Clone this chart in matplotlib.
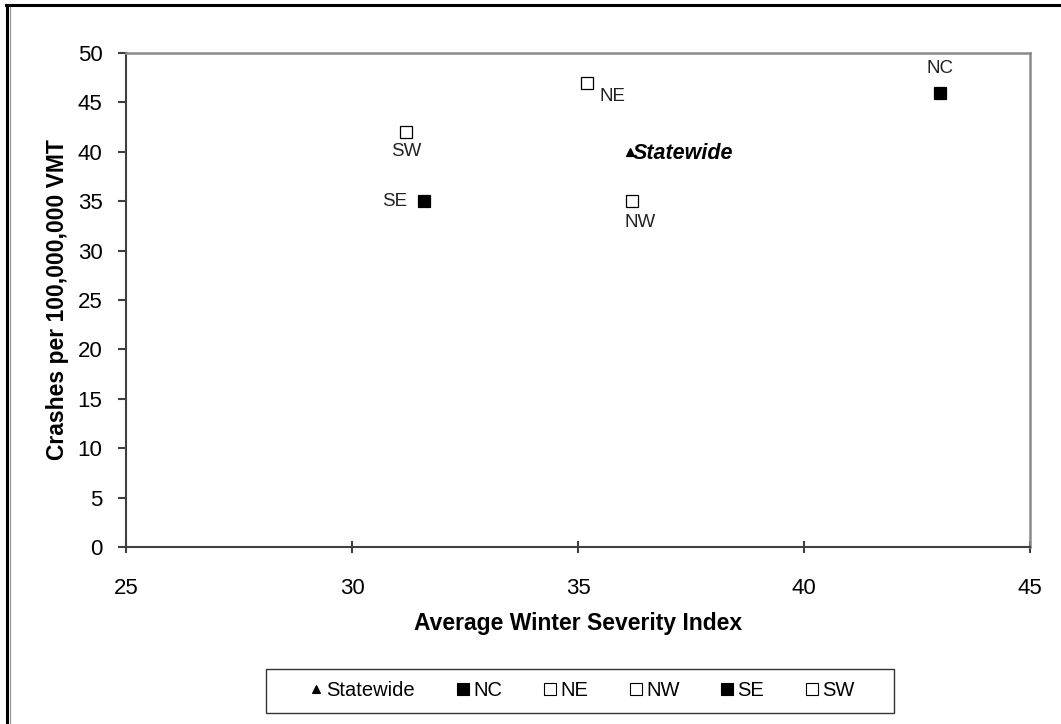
import matplotlib.pyplot as plt
from matplotlib.lines import Line2D
from matplotlib.patches import Rectangle

plt.rcParams['font.family'] = ['Liberation Sans', 'DejaVu Sans']

# region values
regions = ['Statewide', 'NC', 'NE', 'NW', 'SE', 'SW']
severity = [36.15, 43.0, 35.2, 36.2, 31.6, 31.2]
crashes = [40.0, 46.0, 47.0, 35.0, 35.0, 42.0]
markers = ['^', 's', 's', 's', 's', 's']
filled = [True, True, False, False, True, False]

W, H = 1061, 724
fig = plt.figure(figsize=(W / 100, H / 100), dpi=100)
ax = fig.add_axes([126 / W, 1 - 547 / H, (1030 - 126) / W, (547 - 53) / H])

for r, x, y, m, f in zip(regions, severity, crashes, markers, filled):
    ms = 6 if m == '^' else 9
    ax.plot(x, y, marker=m, ms=ms, color='black', mfc='black' if f else 'white',
            mec='black', mew=0.9, linestyle='none', clip_on=False)

# point labels
lab_style = dict(fontsize=13.5, color='#222222')
offsets = {'NC': (0, 11, 'center', 'bottom'),
           'NE': (9, -4, 'left', 'top'),
           'NW': (6, -9, 'center', 'top'),
           'SE': (-12, 0, 'right', 'center'),
           'SW': (0, -8, 'center', 'top')}
for r, x, y in zip(regions, severity, crashes):
    if r == 'Statewide':
        ax.annotate(r, (x, y), xytext=(2, -1), textcoords='offset points',
                    ha='left', va='center', fontsize=15.5, fontweight='bold',
                    fontstyle='italic', color='black')
        continue
    dx, dy, ha, va = offsets[r]
    ax.annotate(r, (x, y), xytext=(dx, dy), textcoords='offset points',
                ha=ha, va=va, **lab_style)

ax.set_xlim(25, 45)
ax.set_ylim(0, 50)
ax.set_xticks([25, 30, 35, 40, 45])
ax.set_yticks(range(0, 51, 5))
ax.tick_params(axis='both', labelsize=16, color='#404040', width=1.5)
ax.tick_params(axis='x', direction='inout', length=8, pad=18)
ax.tick_params(axis='y', direction='out', length=6, pad=11)
for s in ['top', 'right']:
    ax.spines[s].set_color('#8a8a8a')
    ax.spines[s].set_linewidth(1.8)
for s in ['left', 'bottom']:
    ax.spines[s].set_color('#404040')
    ax.spines[s].set_linewidth(1.5)

ax.set_xlabel('Average Winter Severity Index', fontsize=16.5, fontweight='bold', labelpad=10)
ax.set_ylabel('Crashes per 100,000,000 VMT', fontsize=16.5, fontweight='bold', labelpad=6)

# legend, box drawn separately
handles = []
for r, m, f in zip(regions, markers, filled):
    handles.append(Line2D([], [], marker=m, ms=6 if m == '^' else 8, color='black',
                          mfc='black' if f else 'white', mec='black', mew=0.8,
                          linestyle='none', label=r))
leg = fig.legend(handles=handles, loc='center', ncol=6,
                 bbox_to_anchor=((266 + 894) / 2 / W + 1 / W, 1 - 691 / H),
                 fontsize=14.5, frameon=False, handletextpad=0.05,
                 columnspacing=1.93, handlelength=0.9)
fig.add_artist(Rectangle((266 / W, 1 - 713 / H), (894 - 266) / W, 44 / H,
                         transform=fig.transFigure, fill=False,
                         edgecolor='#333333', lw=1.0))

# outer border (top and left double line)
fig.add_artist(Line2D([6 / W, 1], [1 - 5 / H, 1 - 5 / H], color='black', lw=2.2,
                      transform=fig.transFigure))
fig.add_artist(Line2D([7 / W, 7 / W], [0, 1 - 5 / H], color='black', lw=2.2,
                      transform=fig.transFigure))
fig.add_artist(Line2D([10 / W, 10 / W], [0, 1 - 7 / H], color='#999999', lw=0.9,
                      transform=fig.transFigure))

fig.savefig('out.png', dpi=100)
